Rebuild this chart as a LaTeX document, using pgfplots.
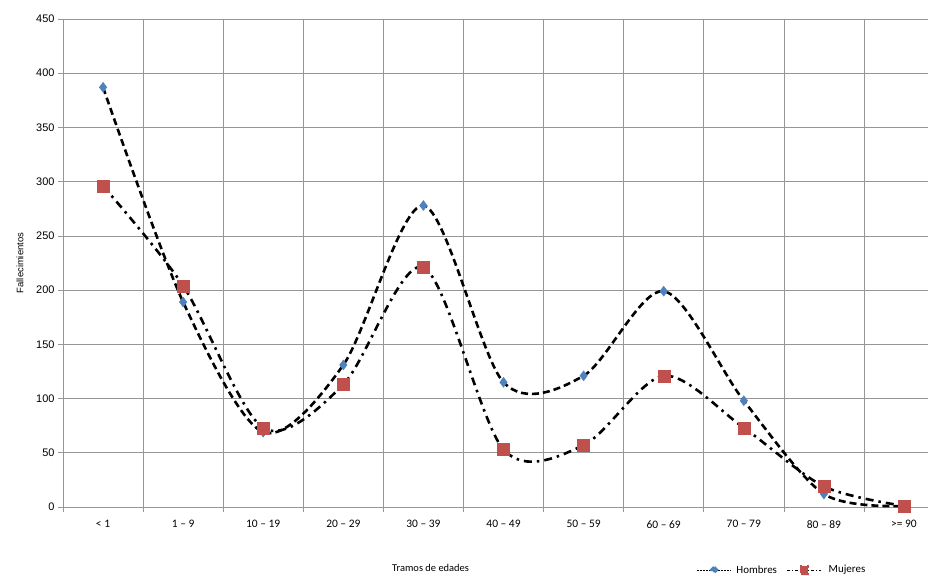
\documentclass[border=0pt]{standalone}
\usepackage{fontspec}
\setmainfont{Carlito}
\newfontfamily\arial{Liberation Sans}
\usepackage{pgfplots}
\pgfplotsset{compat=1.18}
\definecolor{hblue}{RGB}{79,129,189}
\definecolor{mred}{RGB}{192,80,77}
\definecolor{gridgray}{RGB}{150,150,150}
\begin{document}
\begin{tikzpicture}[x=1bp,y=1bp]
\useasboundingbox (-63,-69) rectangle (865,507);
\begin{axis}[at={(0,0)}, anchor=south west, scale only axis, width=865bp, height=488bp,
  xmin=-0.5, xmax=10.3, ymin=0, ymax=450, ytick={0,50,...,450},
  axis x line*=bottom, axis y line*=left, axis line style={gridgray,-},
  xtick={0,...,10},
  xticklabels={< 1, 1 – 9, 10 – 19, 20 – 29, 30 – 39, 40 – 49, 50 – 59, 60 – 69, 70 – 79, 80 – 89, >= 90},
  major x tick style={draw=none},
  minor xtick={-0.5,0.5,...,9.5},
  xminorgrids, ymajorgrids,
  grid style={gridgray, line width=0.6bp},
  minor grid style={gridgray, line width=0.6bp},
  tick style={gridgray, line width=0.6bp},
  tick align=outside, major tick length=5bp, minor tick length=5bp,
  xticklabel style={font=\fontsize{11.5}{13}\selectfont, yshift=-5bp},
  yticklabel style={font=\arial\fontsize{11}{13}\selectfont},
  /pgf/number format/assume math mode=true,
  ylabel={\arial\fontsize{9.5}{11}\selectfont Fallecimientos},
  ylabel style={at={(axis description cs:-0.0497,0.5)}, anchor=center},
  xlabel={\fontsize{10.5}{12}\selectfont Tramos de edades},
  xlabel style={at={(axis description cs:0.425,-0.125)}, anchor=center},
  legend style={at={(axis description cs:0.729,-0.129)}, anchor=west, draw=none, fill=none,
    font=\fontsize{11}{13}\selectfont, legend columns=2,
    /tikz/column 1/.style={column sep=3bp},
    /tikz/column 2/.style={column sep=8bp},
    /tikz/column 3/.style={column sep=5bp}},
  clip=false,
]
\addplot[black, line width=2.6bp, dash pattern=on 7bp off 4bp, smooth, tension=0.5,
  mark=diamond*, mark size=5bp, mark options={solid, fill=hblue, draw=hblue, line width=0.4bp},
  legend image code/.code={
    \draw[black, line width=0.7bp, dash pattern=on 2bp off 1bp] (0bp,0bp) -- (34bp,0bp);
    \fill[hblue] (17bp,2.8bp) -- (19.8bp,0bp) -- (17bp,-2.8bp) -- (14.2bp,0bp) -- cycle;}]
  coordinates {(0,387) (1,189) (2,69) (3,131) (4,278) (5,115) (6,121) (7,199) (8,98) (9,12) (10,1)};
\addlegendentry{Hombres}
\addplot[black, line width=2.6bp, dash pattern=on 8bp off 5bp on 2.5bp off 5bp, smooth, tension=0.5,
  mark=square*, mark size=6bp, mark options={solid, fill=mred, draw=mred, line width=0.4bp},
  legend image code/.code={
    \draw[black, line width=0.7bp, dash pattern=on 3bp off 2bp on 1bp off 2bp] (0bp,0bp) -- (34bp,0bp);
    \fill[mred] (13.5bp,-3.5bp) rectangle (20.5bp,3.5bp);}]
  coordinates {(0,296) (1,204) (2,73) (3,113) (4,221) (5,53) (6,57) (7,121) (8,73) (9,19) (10,1)};
\addlegendentry{Mujeres}
\end{axis}
\end{tikzpicture}
\end{document}
